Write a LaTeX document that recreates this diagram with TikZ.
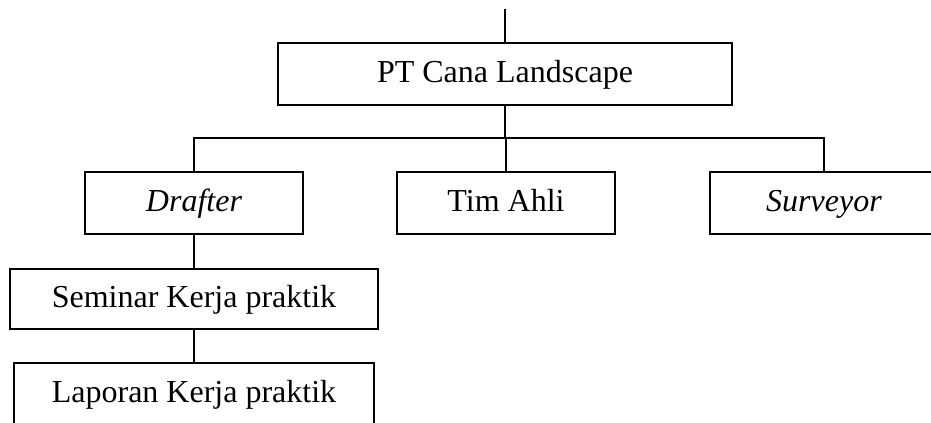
\documentclass[tikz,border=0pt]{standalone}
\usepackage{fontspec}
\setmainfont{Liberation Serif}
\begin{document}
\begin{tikzpicture}[x=0.75pt,y=-0.75pt,
  orgbox/.style={draw, line width=1.2pt, inner sep=0pt, text height=18pt, text depth=4.5pt, font=\fontsize{24}{28}\selectfont},
  conn/.style={line width=1.2pt}]
\useasboundingbox (0,0) rectangle (931,423);
\clip (0,0) rectangle (931,423);
\node[orgbox, minimum width=340.5pt, minimum height=46.5pt] (pt) at (505,74) {PT Cana Landscape};
\node[orgbox, minimum width=163.5pt, minimum height=46.5pt] (drafter) at (194,203) {\textit{Drafter}};
\node[orgbox, minimum width=163.5pt, minimum height=46.5pt] (tim) at (506,203) {Tim Ahli};
\node[orgbox, minimum width=171pt, minimum height=46.5pt] (surveyor) at (824,203) {\textit{Surveyor}};
\node[orgbox, minimum width=276pt, minimum height=45pt] (seminar) at (194,299) {Seminar Kerja praktik};
\node[orgbox, minimum width=270pt, minimum height=46.5pt] (laporan) at (194,394) {Laporan Kerja praktik};
\coordinate (topend) at (505,9);
\coordinate (bus) at (505,138);
\draw[conn] (topend) -- (pt.north);
\draw[conn] (pt.south) -- (bus);
\draw[conn] (drafter.north) -- (drafter.north |- bus) -- (surveyor.north |- bus) -- (surveyor.north);
\draw[conn] (tim.north) -- (tim.north |- bus);
\draw[conn] (drafter.south) -- (drafter.south |- seminar.north);
\draw[conn] (seminar.south) -- (seminar.south |- laporan.north);
\end{tikzpicture}
\end{document}
